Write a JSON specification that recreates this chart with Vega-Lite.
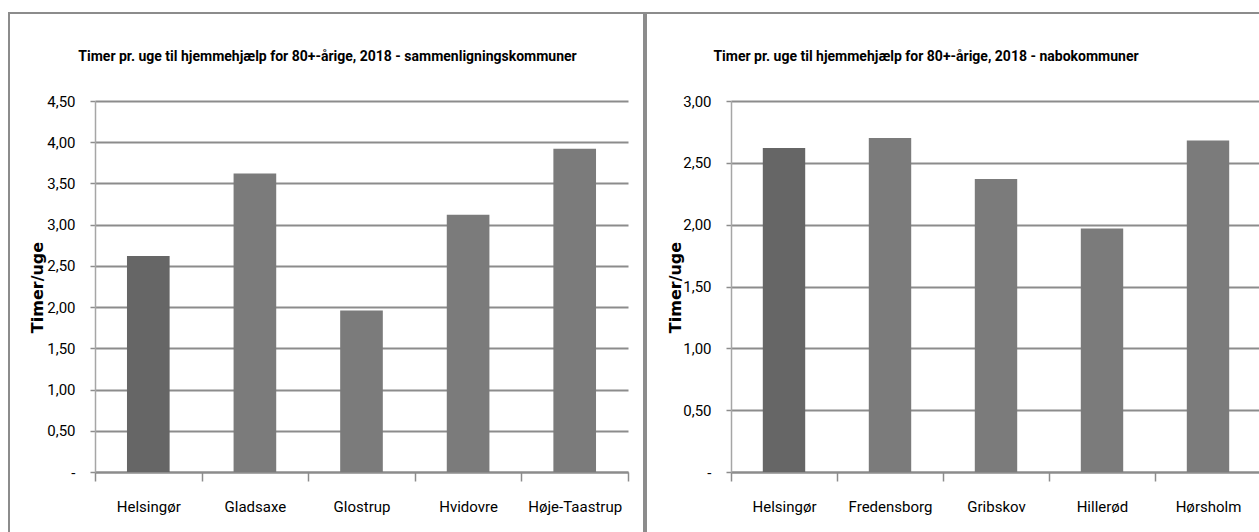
{
  "$schema": "https://vega.github.io/schema/vega-lite/v6.json",
  "padding": {"left": 8, "top": 12, "right": 0, "bottom": 0},
  "background": "white",
  "spacing": 0,
  "config": {
    "view": {"stroke": "#8c8c8c", "strokeWidth": 2},
    "font": "Roboto"
  },
  "datasets": {
    "sammen": [
      {"kommune": "Helsingør", "timer": 2.62},
      {"kommune": "Gladsaxe", "timer": 3.62},
      {"kommune": "Glostrup", "timer": 1.96},
      {"kommune": "Hvidovre", "timer": 3.12},
      {"kommune": "Høje-Taastrup", "timer": 3.92}
    ],
    "nabo": [
      {"kommune": "Helsingør", "timer": 2.62},
      {"kommune": "Fredensborg", "timer": 2.70},
      {"kommune": "Gribskov", "timer": 2.37},
      {"kommune": "Hillerød", "timer": 1.97},
      {"kommune": "Hørsholm", "timer": 2.68}
    ]
  },
  "hconcat": [
    {
      "width": 635,
      "height": 528,
      "data": {"name": "sammen"},
      "title": {
        "text": "Timer pr. uge til hjemmehjælp for 80+-årige, 2018 - sammenligningskommuner",
        "font": "Roboto",
        "fontSize": 14,
        "fontWeight": "bold",
        "color": "black",
        "anchor": "middle",
        "dx": 1,
        "baseline": "alphabetic",
        "offset": -62
      },
      "mark": {"type": "bar", "width": {"band": 0.4}},
      "encoding": {
        "x": {
          "field": "kommune", "type": "nominal", "sort": null,
          "scale": {"range": [86, 619], "paddingInner": 0, "paddingOuter": 0},
          "axis": {
            "title": null, "offset": -69, "labelAngle": 0,
            "labelFont": "Roboto",
            "labelFontSize": 15, "labelColor": "black", "labelPadding": 18,
            "tickBand": "extent", "tickSize": 9, "tickColor": "#8c8c8c", "tickWidth": 1.5,
            "domainColor": "#8c8c8c", "domainWidth": 2, "grid": false
          }
        },
        "y": {
          "field": "timer", "type": "quantitative",
          "scale": {"domain": [0, 4.5], "range": [459, 88], "nice": false, "zero": true},
          "axis": {
            "title": "Timer/uge", "offset": -86,
            "values": [0, 0.5, 1, 1.5, 2, 2.5, 3, 3.5, 4, 4.5],
            "labelExpr": "datum.value == 0 ? '-' : replace(format(datum.value, '.2f'), '.', ',')",
            "labelFont": "Roboto",
            "labelFontSize": 15, "labelColor": "black", "labelPadding": 15,
            "tickSize": 5, "tickColor": "#8c8c8c", "tickWidth": 1.5,
            "domainColor": "#a6a6a6", "domainWidth": 1.5,
            "grid": true, "gridColor": "#8c8c8c", "gridWidth": 2,
            "titleFont": "DejaVu Sans", "titleFontWeight": "bold", "titleFontSize": 16,
            "titleColor": "black", "titleX": -58, "titleY": 274, "titleAngle": -90,
            "titleAlign": "center", "titleBaseline": "middle"
          }
        },
        "color": {
          "condition": {"test": "datum.kommune == 'Helsingør'", "value": "#666666"},
          "value": "#7b7b7b"
        }
      }
    },
    {
      "width": 620,
      "height": 528,
      "data": {"name": "nabo"},
      "title": {
        "text": "Timer pr. uge til hjemmehjælp for 80+-årige, 2018 - nabokommuner",
        "font": "Roboto",
        "fontSize": 14,
        "fontWeight": "bold",
        "color": "black",
        "anchor": "middle",
        "dx": -30,
        "baseline": "alphabetic",
        "offset": -62
      },
      "mark": {"type": "bar", "width": {"band": 0.4}},
      "encoding": {
        "x": {
          "field": "kommune", "type": "nominal", "sort": null,
          "scale": {"range": [85, 615], "paddingInner": 0, "paddingOuter": 0},
          "axis": {
            "title": null, "offset": -69, "labelAngle": 0,
            "labelFont": "Roboto",
            "labelFontSize": 15, "labelColor": "black", "labelPadding": 18,
            "tickBand": "extent", "tickSize": 9, "tickColor": "#8c8c8c", "tickWidth": 1.5,
            "domainColor": "#8c8c8c", "domainWidth": 2, "grid": false
          }
        },
        "y": {
          "field": "timer", "type": "quantitative",
          "scale": {"domain": [0, 3], "range": [459, 88], "nice": false, "zero": true},
          "axis": {
            "title": "Timer/uge", "offset": -85,
            "values": [0, 0.5, 1, 1.5, 2, 2.5, 3],
            "labelExpr": "datum.value == 0 ? '-' : replace(format(datum.value, '.2f'), '.', ',')",
            "labelFont": "Roboto",
            "labelFontSize": 15, "labelColor": "black", "labelPadding": 15,
            "tickSize": 5, "tickColor": "#8c8c8c", "tickWidth": 1.5,
            "domainColor": "#a6a6a6", "domainWidth": 1.5,
            "grid": true, "gridColor": "#8c8c8c", "gridWidth": 2,
            "titleFont": "DejaVu Sans", "titleFontWeight": "bold", "titleFontSize": 16,
            "titleColor": "black", "titleX": -56, "titleY": 274, "titleAngle": -90,
            "titleAlign": "center", "titleBaseline": "middle"
          }
        },
        "color": {
          "condition": {"test": "datum.kommune == 'Helsingør'", "value": "#666666"},
          "value": "#7b7b7b"
        }
      }
    }
  ]
}
